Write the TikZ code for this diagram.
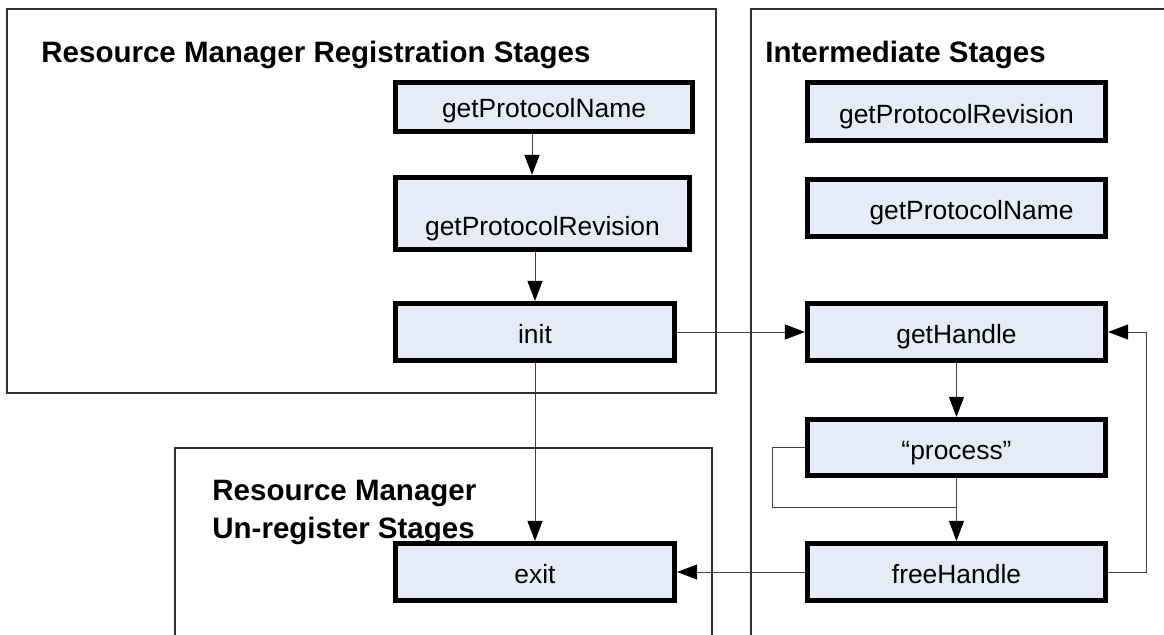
\documentclass[tikz,border=0pt]{standalone}
\usepackage{fontspec}
\setmainfont{Liberation Sans}
\usetikzlibrary{arrows.meta,calc}

\definecolor{boxfill}{RGB}{230,236,247}
\definecolor{wire}{RGB}{64,64,64}
\definecolor{frame}{RGB}{48,48,48}

\tikzset{
  stagebox/.style={draw=black, line width=2.6pt, fill=boxfill,
    inner sep=0pt, text height=14.3pt, text depth=0.25em,
    font=\fontsize{13.2}{15}\selectfont},
  paneltitle/.style={anchor=base west, inner sep=0pt,
    font=\fontsize{14.75}{17}\selectfont\bfseries},
  panel/.style={draw=frame, line width=0.6pt},
  wirearrow/.style={draw=wire, line width=0.5pt,
    -{Triangle[length=10pt,width=7.5pt,color=black]}},
  wireline/.style={draw=wire, line width=0.5pt},
}

\begin{document}
\begin{tikzpicture}[x=0.5pt, y=-0.5pt]
\useasboundingbox (0,0) rectangle (1164,634);

% stage panels
\draw[panel] (7,9) rectangle (716,393);
\draw[panel] (175,640) -- (175,448) -- (712,448) -- (712,640);
\draw[panel] (751,640) -- (751,9) -- (1170,9);

% panel titles
\node[paneltitle] (t1) at (41,62) {Resource Manager Registration Stages};
\node[paneltitle] (t2) at (765,62) {Intermediate Stages};
\node[paneltitle] (t3a) at (212,500) {Resource Manager};
\node[paneltitle] (t3b) at (212,538) {Un-register Stages};

% registration stages
\node[stagebox, minimum width=148.5pt, minimum height=24.5pt, text height=12.5pt] (gpn) at (544,107) {getProtocolName};
\node[stagebox, minimum width=147pt, minimum height=36pt, text height=24.8pt] (gpr) at (542.5,213.5) {getProtocolRevision};
\node[stagebox, minimum width=139.5pt, minimum height=28.5pt] (init) at (535,332) {init};

% un-register stage
\node[stagebox, minimum width=139.5pt, minimum height=28.5pt] (exit) at (535,572) {exit};

% intermediate stages
\node[stagebox, minimum width=149pt, minimum height=29pt] (rgpr) at (956.5,111.5) {getProtocolRevision};
\node[stagebox, minimum width=149pt, minimum height=28.5pt] (rgpn) at (956.5,208) {\hspace*{15pt}getProtocolName};
\node[stagebox, minimum width=149pt, minimum height=28.5pt] (gh) at (956.5,332) {getHandle};
\node[stagebox, minimum width=149pt, minimum height=28pt] (proc) at (956.5,447.5) {“process”};
\node[stagebox, minimum width=149pt, minimum height=28.5pt] (fh) at (956.5,572) {freeHandle};

% loop helpers
\coordinate (loopL) at (772,507);
\coordinate (loopR) at (1146,332);

% connectors
\draw[wirearrow] ([xshift=-1.5pt]gpn.south -| init.north) -- ([xshift=-1.5pt]gpr.north -| init.north);
\draw[wirearrow] (gpr.south -| init.north) -- (init.north);
\draw[wirearrow] (init.east) -- (init.east -| gh.west);
\draw[wirearrow] (init.south) -- (exit.north);
\draw[wirearrow] (gh.south) -- (proc.north);
\draw[wirearrow] (proc.south) -- (fh.north);
\draw[wireline] (proc.west) -| (loopL) -- (loopL -| proc.south);
\draw[wirearrow] (fh.east) -| (loopR) -- (gh.east);
\draw[wirearrow] (fh.west) -- (exit.east);
\end{tikzpicture}
\end{document}
